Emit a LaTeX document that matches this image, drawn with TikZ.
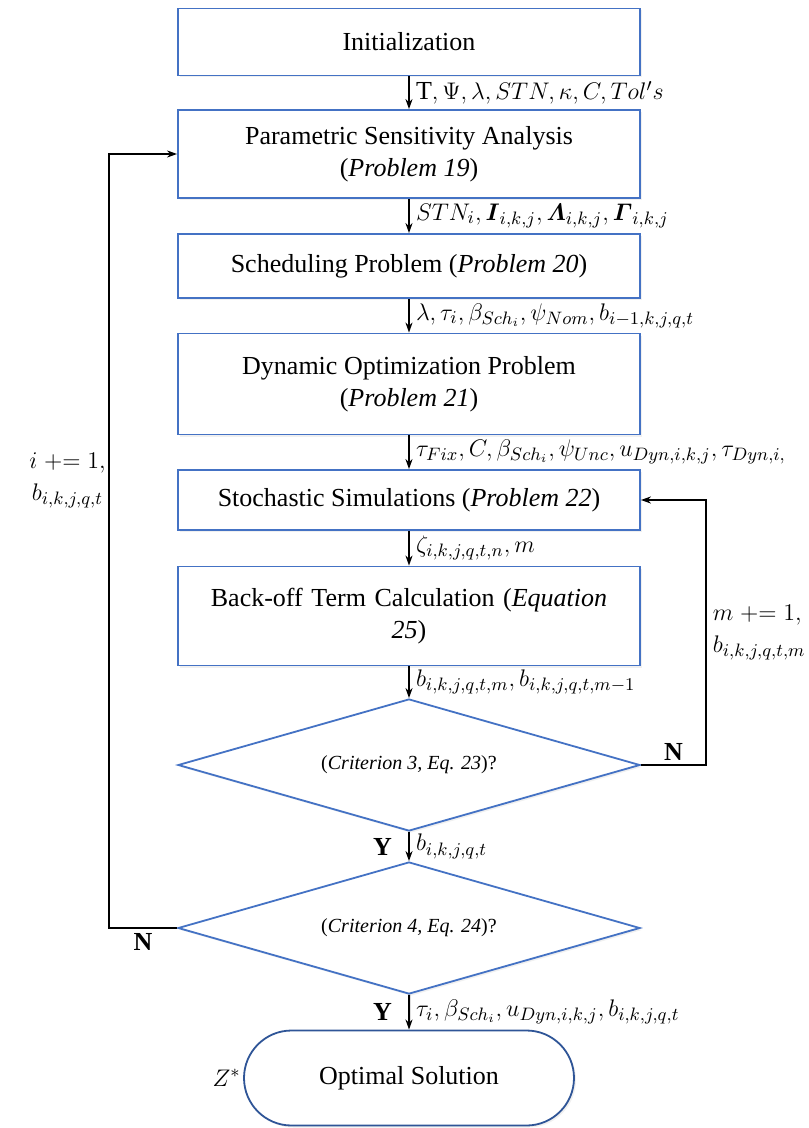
\documentclass[tikz,border=0pt]{standalone}
\usepackage{amsmath,amssymb}
\usepackage{fontspec}
\setmainfont{Liberation Serif}
\usetikzlibrary{shapes.geometric,shapes.misc,arrows.meta,shadows}

\definecolor{boxblue}{RGB}{68,114,196}
\definecolor{termblue}{RGB}{47,85,151}

\tikzset{
    stepbox/.style={draw=boxblue, line width=0.9pt, fill=white, minimum width=231pt,
        inner sep=2pt, align=center, font=\fontsize{13}{16}\selectfont,
        drop shadow={opacity=0.12, shadow xshift=1pt, shadow yshift=-1pt}},
    critbox/.style={stepbox, shape=diamond, shape aspect=3.5, minimum height=66pt,
        inner sep=0pt, font=\fontsize{10}{12}\selectfont},
    endbox/.style={stepbox, shape=rounded rectangle, draw=termblue, minimum width=169pt,
        minimum height=47.5pt},
    flow/.style={line width=1pt, -{Stealth[length=5pt,width=3.5pt]}},
    lbl/.style={anchor=west, inner sep=1pt, xshift=2pt, font=\fontsize{13}{16}\selectfont},
    yn/.style={font=\fontsize{13}{16}\selectfont\bfseries, inner sep=2pt}
}

\begin{document}
\begin{tikzpicture}[x=0.5pt, y=-0.5pt]
        % Fix the frame of the picture (pixel grid of the original)
        \useasboundingbox (0,0) rectangle (808,1128);

        % Process steps
        \node[stepbox, minimum height=33.5pt] (init)    at (409,42)  {Initialization};
        \node[stepbox, minimum height=44pt]   (psa)     at (409,154) {Parametric Sensitivity Analysis\\(\textit{Problem 19})};
        \node[stepbox, minimum height=32pt]   (sched)   at (409,266) {Scheduling Problem (\textit{Problem 20})};
        \node[stepbox, minimum height=50.5pt] (dynopt)  at (409,384) {Dynamic Optimization Problem\\(\textit{Problem 21})};
        \node[stepbox, minimum height=30pt]   (stoch)   at (409,500) {Stochastic Simulations (\textit{Problem 22})};
        \node[stepbox, minimum height=49.5pt, text width=212pt] (backoff) at (409,616) {Back-off Term Calculation (\textit{Equation}\\\textit{25})};

        % Decisions and end
        \node[critbox] (crit3) at (409,765) {(\textit{Criterion 3, Eq. 23})?};
        \node[critbox] (crit4) at (409,928) {(\textit{Criterion 4, Eq. 24})?};
        \node[endbox]  (optsol) at (409,1078) {Optimal Solution};
        \node[lbl, anchor=east, xshift=-2pt] (zstar) at (optsol.west) {$Z^*$};

        % Main flow with passed quantities
        \draw[flow] (init) -- node[lbl] {$\mathrm{T},\Psi,\lambda,STN,\kappa,C,Tol's$} (psa);
        \draw[flow] (psa) -- node[lbl] {$STN_i,\boldsymbol{I}_{i,k,j},\boldsymbol{\varLambda}_{i,k,j},\boldsymbol{\varGamma}_{i,k,j}$} (sched);
        \draw[flow] (sched) -- node[lbl] {$\lambda,\tau_i,\beta_{Sch_i},\psi_{Nom},b_{i-1,k,j,q,t}$} (dynopt);
        \draw[flow] (dynopt) -- node[lbl] {$\tau_{Fix},C,\beta_{Sch_i},\psi_{Unc},u_{Dyn,i,k,j},\tau_{Dyn,i,}$} (stoch);
        \draw[flow] (stoch) -- node[lbl] {$\zeta_{i,k,j,q,t,n},m$} (backoff);
        \draw[flow] (backoff) -- node[lbl] {$b_{i,k,j,q,t,m},b_{i,k,j,q,t,m-1}$} (crit3);
        \draw[flow] (crit3) -- node[lbl] {$b_{i,k,j,q,t}$} node[yn, left, xshift=-6pt] {Y} (crit4);
        \draw[flow] (crit4) -- node[lbl] {$\tau_i,\beta_{Sch_i},u_{Dyn,i,k,j},b_{i,k,j,q,t}$} node[yn, left, xshift=-6pt] {Y} (optsol);

        % Loops back
        \draw[flow] (crit3.east) -- node[yn, above] {N} ++(65,0)
                    |- node[pos=0.25, lbl, align=left] {$m\mathrel{+}=1,$\\$b_{i,k,j,q,t,m}$} (stoch.east);
        \draw[flow] (crit4.west) -- node[yn, below] {N} ++(-68,0) |- (psa.west);
        \node[lbl, anchor=east, align=center] (iloop) at (104,480) {$i\mathrel{+}=1,$\\$b_{i,k,j,q,t}$};
\end{tikzpicture}
\end{document}
